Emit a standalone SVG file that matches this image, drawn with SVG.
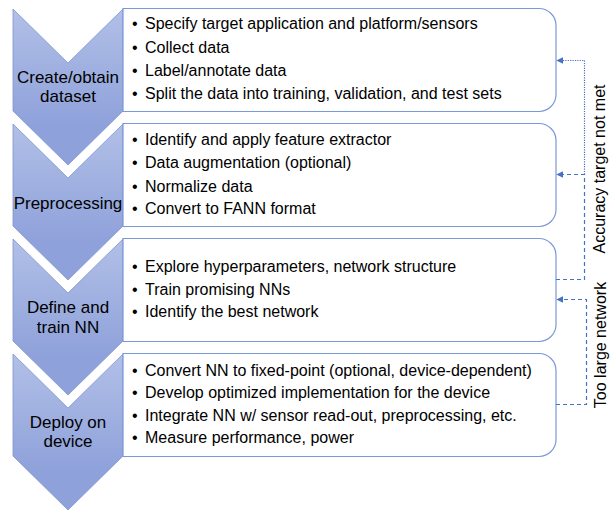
<svg xmlns="http://www.w3.org/2000/svg" width="613" height="510" viewBox="0 0 613 510">
<defs>
<linearGradient id="chevGrad" x1="0" y1="0" x2="0" y2="1">
<stop offset="0" stop-color="#b2c0e7"/>
<stop offset="0.75" stop-color="#8ea1da"/>
<stop offset="1" stop-color="#8ea1da"/>
</linearGradient>
<marker id="arrow" viewBox="0 0 10 10" refX="9" refY="5" markerWidth="7" markerHeight="7" markerUnits="userSpaceOnUse" orient="auto">
<path d="M0,0 L10,5 L0,10 Z" fill="#4472c4"/>
</marker>
<style>
.chev{fill:url(#chevGrad);stroke:#7f94d2;stroke-width:0.8}
.box{fill:#fff;stroke:#7b98d8;stroke-width:1.2}
.lbl{font-family:"Liberation Sans",Arial,sans-serif;font-size:17px;fill:#000;text-anchor:middle}
.item{font-family:"Liberation Sans",Arial,sans-serif;font-size:16px;fill:#000}
.side{font-family:"Liberation Sans",Arial,sans-serif;font-size:16px;fill:#000;text-anchor:middle}
.dash{fill:none;stroke:#4472c4;stroke-width:1.2;stroke-dasharray:4 3}
.dot{fill:none;stroke:#4472c4;stroke-width:1.2;stroke-dasharray:1.2 1.2}
</style>
</defs>
<rect width="613" height="510" fill="#fff"/>

<g id="step1">
<path class="chev" d="M13,9 L68,63 L123,9 L123,111 L68,165 L13,111 Z"/>
<text class="lbl" x="68" y="83">Create/obtain</text>
<text class="lbl" x="68" y="102">dataset</text>
<path class="box" d="M123,8.5 H539 A17,17 0 0 1 556,25.5 V94.5 A17,17 0 0 1 539,111.5 H123 Z"/>
<text class="item" x="132" y="29">•</text><text class="item" x="145" y="29">Specify target application and platform/sensors</text>
<text class="item" x="132" y="53">•</text><text class="item" x="145" y="53">Collect data</text>
<text class="item" x="132" y="76">•</text><text class="item" x="145" y="76">Label/annotate data</text>
<text class="item" x="132" y="99">•</text><text class="item" x="145" y="99">Split the data into training, validation, and test sets</text>
</g>

<g id="step2">
<path class="chev" d="M13,124 L68,178 L123,124 L123,226 L68,280 L13,226 Z"/>
<text class="lbl" x="68" y="209">Preprocessing</text>
<path class="box" d="M123,123.5 H539 A17,17 0 0 1 556,140.5 V209.5 A17,17 0 0 1 539,226.5 H123 Z"/>
<text class="item" x="132" y="145">•</text><text class="item" x="145" y="145">Identify and apply feature extractor</text>
<text class="item" x="132" y="168">•</text><text class="item" x="145" y="168">Data augmentation (optional)</text>
<text class="item" x="132" y="192">•</text><text class="item" x="145" y="192">Normalize data</text>
<text class="item" x="132" y="214">•</text><text class="item" x="145" y="214">Convert to FANN format</text>
</g>

<g id="step3">
<path class="chev" d="M13,239 L68,293 L123,239 L123,341 L68,395 L13,341 Z"/>
<text class="lbl" x="68" y="313">Define and</text>
<text class="lbl" x="68" y="333">train NN</text>
<path class="box" d="M123,238.5 H539 A17,17 0 0 1 556,255.5 V324.5 A17,17 0 0 1 539,341.5 H123 Z"/>
<text class="item" x="132" y="272">•</text><text class="item" x="145" y="272">Explore hyperparameters, network structure</text>
<text class="item" x="132" y="295">•</text><text class="item" x="145" y="295">Train promising NNs</text>
<text class="item" x="132" y="317">•</text><text class="item" x="145" y="317">Identify the best network</text>
</g>

<g id="step4">
<path class="chev" d="M13,354 L68,408 L123,354 L123,456 L68,510 L13,456 Z"/>
<text class="lbl" x="68" y="428">Deploy on</text>
<text class="lbl" x="68" y="447">device</text>
<path class="box" d="M123,353.5 H539 A17,17 0 0 1 556,370.5 V439.5 A17,17 0 0 1 539,456.5 H123 Z"/>
<text class="item" x="132" y="376">•</text><text class="item" x="145" y="376">Convert NN to fixed-point (optional, device-dependent)</text>
<text class="item" x="132" y="398">•</text><text class="item" x="145" y="398">Develop optimized implementation for the device</text>
<text class="item" x="132" y="421">•</text><text class="item" x="145" y="421">Integrate NN w/ sensor read-out, preprocessing, etc.</text>
<text class="item" x="132" y="443">•</text><text class="item" x="145" y="443">Measure performance, power</text>
</g>

<g id="connectors">
<path class="dash" d="M556,279.5 H584.5 V174.5 H557" marker-end="url(#arrow)"/>
<path class="dot" d="M584.5,174.5 V60.5 H557" marker-end="url(#arrow)"/>
<path class="dash" d="M556,404.5 H586.5 V299.5 H557" marker-end="url(#arrow)"/>
</g>

<g id="labels">
<text class="side" transform="translate(605,169) rotate(-90)">Accuracy target not met</text>
<text class="side" transform="translate(606,345) rotate(-90)">Too large network</text>
</g>
</svg>
